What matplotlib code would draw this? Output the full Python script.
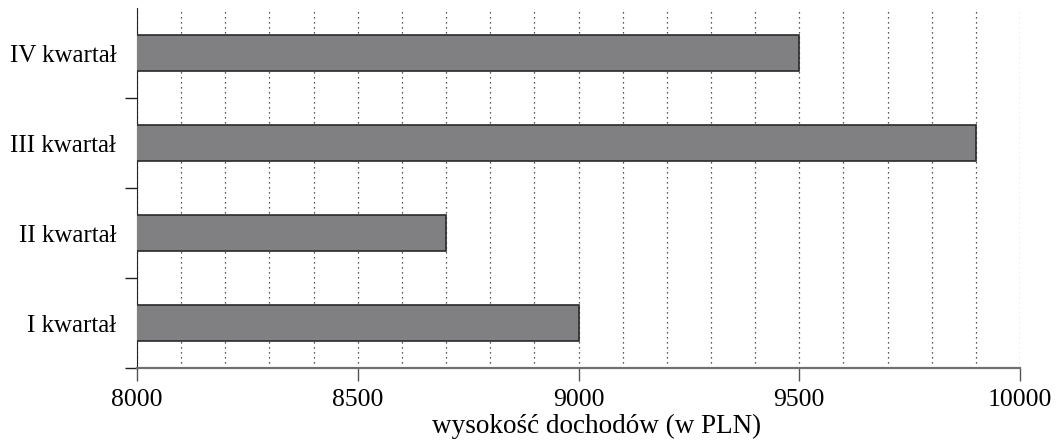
import matplotlib as mpl
mpl.use('Agg')
import matplotlib.pyplot as plt
import numpy as np

# data
quarters = ['I kwartał', 'II kwartał', 'III kwartał', 'IV kwartał']
income = [9000, 8700, 9900, 9500]
x_ticks = [8000, 8500, 9000, 9500, 10000]

plt.rcParams['font.family'] = ['Liberation Serif', 'DejaVu Serif']

fig = plt.figure(figsize=(10.58, 4.46), dpi=100)
ax = fig.add_axes([137/1058, 1-368/446, (1020-137)/1058, 360/446])

ypos = np.arange(len(quarters))
ax.barh(ypos, income, height=0.4, color='#808083', edgecolor='#2a2a2a',
        linewidth=1.2, zorder=3)

ax.set_xlim(8000, 10000)
ax.set_ylim(-0.5, len(quarters) - 0.5)

# dotted grid every 100
ax.set_xticks(np.arange(8000, 10001, 100), minor=True)
ax.set_xticks(x_ticks)
ax.grid(axis='x', which='both', linestyle=(0, (1, 3)), color='#222222',
        linewidth=0.9, zorder=0)
ax.tick_params(axis='x', which='minor', length=0)
ax.tick_params(axis='x', which='major', length=9, width=1, color='#555555',
               pad=6, labelsize=18.5)

# y ticks between categories, labels centered
ax.set_yticks([-0.5, 0.5, 1.5, 2.5])
ax.set_yticklabels([])
ax.set_yticks(ypos, minor=True)
ax.set_yticklabels(quarters, minor=True, fontsize=18)
ax.tick_params(axis='y', which='minor', length=0, pad=15)
ax.tick_params(axis='y', which='major', length=9, width=1, color='#222222')

for s in ['top', 'right']:
    ax.spines[s].set_visible(False)
ax.spines['bottom'].set_color('#707070')
ax.spines['bottom'].set_linewidth(1.6)
ax.spines['left'].set_color('#222222')

ax.set_xlabel('wysokość dochodów (w PLN)', fontsize=19.5)
ax.xaxis.set_label_coords(0.52, -0.128)

plt.savefig('out.png', dpi=100)
